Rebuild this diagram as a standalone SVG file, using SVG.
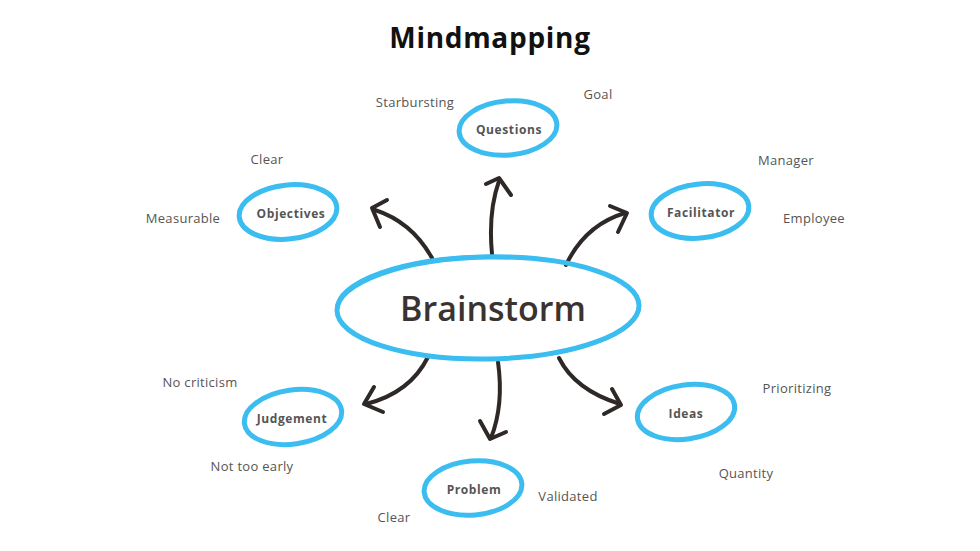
<svg xmlns="http://www.w3.org/2000/svg" width="980" height="551" viewBox="0 0 980 551">
<style>
.bg{fill:#ffffff}
.ring{fill:none;stroke:#3bbdf0;stroke-width:5}
.ring2{fill:none;stroke:#3bbdf0;stroke-width:2}
.title{font-family:"Open Sans","Liberation Sans",sans-serif;font-weight:700;font-size:28px;fill:#111111;letter-spacing:0.7px}
.main{font-family:"Open Sans","Liberation Sans",sans-serif;font-weight:600;font-size:34px;fill:#3a3330}
.node{font-family:"Open Sans","Liberation Sans",sans-serif;font-weight:700;font-size:12px;fill:#555555;letter-spacing:0.6px}
.leaf{font-family:"Open Sans","Liberation Sans",sans-serif;font-size:13px;fill:#555555;letter-spacing:0.3px}
.arrow{fill:none;stroke:#2e2927;stroke-width:4;stroke-linecap:round;stroke-linejoin:round}
</style>
<rect class="bg" x="0" y="0" width="980" height="551"/>
<text class="title" x="490" y="48" text-anchor="middle">Mindmapping</text>

<g id="connectors">
<path class="arrow" d="M432,258 Q412,222 375,210"/>
<path class="arrow" d="M387,200 L372,208 L380,227"/>
<path class="arrow" d="M492,254 Q488,212 499,181"/>
<path class="arrow" d="M486,184 L499,178 L511,195"/>
<path class="arrow" d="M566,265 Q585,225 625,213"/>
<path class="arrow" d="M610,206 L627,213 L618,232"/>
<path class="arrow" d="M428,357 Q410,393 366,404"/>
<path class="arrow" d="M374,387 L364,404 L383,412"/>
<path class="arrow" d="M498,362 Q504,405 491,438"/>
<path class="arrow" d="M480,421 L490,439 L506,432"/>
<path class="arrow" d="M559,358 Q575,390 620,404"/>
<path class="arrow" d="M612,389 L621,405 L604,414"/>
</g>

<g id="brainstorm">
<ellipse class="ring" cx="488" cy="308" rx="151" ry="51" transform="rotate(-1 488 308)"/>
<ellipse class="ring2" cx="488" cy="307.5" rx="152" ry="52" transform="rotate(-0.5 488 307.5)"/>
<text class="main" x="493" y="321" text-anchor="middle">Brainstorm</text>
</g>

<g id="questions">
<ellipse class="ring" cx="508" cy="128" rx="49" ry="27" transform="rotate(-5 508 128)"/>
<text class="node" x="509" y="134" text-anchor="middle">Questions</text>
<text class="leaf" x="415" y="107" text-anchor="middle">Starbursting</text>
<text class="leaf" x="598" y="99" text-anchor="middle">Goal</text>
</g>

<g id="objectives">
<ellipse class="ring" cx="288" cy="212" rx="49" ry="27" transform="rotate(-6 288 212)"/>
<text class="node" x="291" y="218" text-anchor="middle">Objectives</text>
<text class="leaf" x="267" y="164" text-anchor="middle">Clear</text>
<text class="leaf" x="183" y="223" text-anchor="middle">Measurable</text>
</g>

<g id="facilitator">
<ellipse class="ring" cx="700" cy="211" rx="49" ry="27" transform="rotate(-6 700 211)"/>
<text class="node" x="701" y="217" text-anchor="middle">Facilitator</text>
<text class="leaf" x="786" y="165" text-anchor="middle">Manager</text>
<text class="leaf" x="814" y="223" text-anchor="middle">Employee</text>
</g>

<g id="judgement">
<ellipse class="ring" cx="293" cy="417" rx="49" ry="27" transform="rotate(-8 293 417)"/>
<text class="node" x="292" y="423" text-anchor="middle">Judgement</text>
<text class="leaf" x="200" y="387" text-anchor="middle">No criticism</text>
<text class="leaf" x="252" y="471" text-anchor="middle">Not too early</text>
</g>

<g id="problem">
<ellipse class="ring" cx="473" cy="488" rx="49" ry="27" transform="rotate(-5 473 488)"/>
<text class="node" x="474" y="494" text-anchor="middle">Problem</text>
<text class="leaf" x="568" y="501" text-anchor="middle">Validated</text>
<text class="leaf" x="394" y="522" text-anchor="middle">Clear</text>
</g>

<g id="ideas">
<ellipse class="ring" cx="686" cy="412" rx="49" ry="27" transform="rotate(-8 686 412)"/>
<text class="node" x="686" y="418" text-anchor="middle">Ideas</text>
<text class="leaf" x="797" y="393" text-anchor="middle">Prioritizing</text>
<text class="leaf" x="746" y="478" text-anchor="middle">Quantity</text>
</g>
</svg>
